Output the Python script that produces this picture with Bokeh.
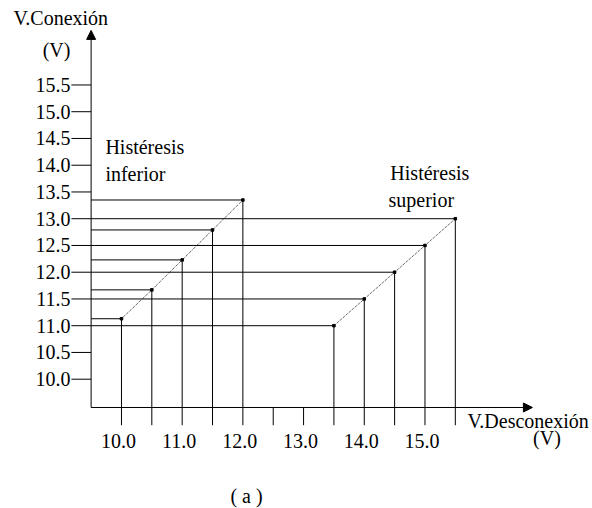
from bokeh.plotting import figure
from bokeh.models import Range1d, Label, Arrow, NormalHead, ColumnDataSource
from bokeh.core.properties import value
from bokeh.embed import file_html
from bokeh.resources import INLINE

# ---- data ----
y_ticks = [10.0, 10.5, 11.0, 11.5, 12.0, 12.5, 13.0, 13.5, 14.0, 14.5, 15.0, 15.5]
y_tick_labels = ["10.0", "10.5", "11.0", "11.5", "12.0", "12.5", "13.0", "13.5", "14.0", "14.5", "15.0", "15.5"]
x_ticks = [10.0, 10.5, 11.0, 11.5, 12.0, 12.5, 13.0, 13.5, 14.0, 14.5, 15.0, 15.5]
x_tick_labels = ["10.0", "", "11.0", "", "12.0", "", "13.0", "", "14.0", "", "15.0", ""]

inferior_off = [10.0, 10.5, 11.0, 11.5, 12.0]
inferior_on = [11.13, 11.67, 12.23, 12.79, 13.35]
superior_off = [13.5, 14.0, 14.5, 15.0, 15.5]
superior_on = [11.0, 11.5, 12.0, 12.5, 13.0]

# axis geometry (data units)
X0, Y0 = 9.5, 9.471            # origin of the drawn axes
X_TIP, Y_TIP = 16.77, 16.52     # arrow tips
Y_TICK_LEN = 0.325              # y-axis ticks stick out to the left (x units)
X_TICK_LEN = 0.331              # x-axis ticks stick out downward (y units)

FONT = "'Liberation Serif', serif"
FS = "20px"

p = figure(width=592, height=508, output_backend="svg", toolbar_location=None,
           x_range=Range1d(8.007, 17.76), y_range=Range1d(7.583, 17.079),
           x_axis_type=None, y_axis_type=None, min_border=0)
p.outline_line_color = None
p.grid.visible = False
p.background_fill_color = "white"
p.border_fill_color = "white"

# axes with arrows
p.add_layout(Arrow(end=NormalHead(size=9, fill_color="black", line_color="black", line_width=1),
                   x_start=X0, y_start=Y0, x_end=X_TIP, y_end=Y0,
                   line_color="black", line_width=1))
p.add_layout(Arrow(end=NormalHead(size=9, fill_color="black", line_color="black", line_width=1),
                   x_start=X0, y_start=Y0, x_end=X0, y_end=Y_TIP,
                   line_color="black", line_width=1))

# ticks
ny, nx = len(y_ticks), len(x_ticks)
p.segment(x0=[X0 - Y_TICK_LEN] * ny, y0=y_ticks, x1=[X0] * ny, y1=y_ticks, line_color="black", line_width=1)
p.segment(x0=x_ticks, y0=[Y0] * nx, x1=x_ticks, y1=[Y0 - X_TICK_LEN] * nx, line_color="black", line_width=1)

# tick labels
ysrc = ColumnDataSource(dict(x=[X0 - Y_TICK_LEN] * ny, y=y_ticks, t=y_tick_labels))
p.text(x="x", y="y", text="t", source=ysrc, text_font=value(FONT), text_font_size=FS,
       text_color="black", text_align="right", text_baseline="middle", x_offset=-1)
xsrc = ColumnDataSource(dict(x=x_ticks, y=[Y0 - X_TICK_LEN] * nx, t=x_tick_labels))
p.text(x="x", y="y", text="t", source=xsrc, text_font=value(FONT), text_font_size=FS,
       text_color="black", text_align="center", text_baseline="top", x_offset=-3, y_offset=9)

# hysteresis lines
for off, on in ((inferior_off, inferior_on), (superior_off, superior_on)):
    n = len(off)
    p.segment(x0=[X0] * n, y0=on, x1=off, y1=on, line_color="black", line_width=1)
    p.segment(x0=off, y0=[Y0] * n, x1=off, y1=on, line_color="black", line_width=1)
    p.line(off, on, line_color="#222222", line_width=1, line_dash="1 1")
    p.scatter(off, on, marker="square", size=2.5, color="black")

def lab(x, y, text, align="left", size=FS):
    p.add_layout(Label(x=x, y=y, text=text, text_font=FONT, text_font_size=size,
                       text_color="black", text_align=align, text_baseline="middle"))

lab(9.735, 14.34, "Histéresis")
lab(9.735, 13.84, "inferior")
lab(14.43, 13.85, "Histéresis")
lab(14.40, 13.35, "superior")
lab(8.22, 16.76, "V.Conexión")
lab(8.93, 16.16, "(V)", align="center")
lab(15.70, 9.22, "V.Desconexión")
lab(17.01, 8.91, "(V)", align="center")
lab(12.06, 7.81, "( a )", align="center")

open("out.html", "w").write(file_html(p, INLINE))
